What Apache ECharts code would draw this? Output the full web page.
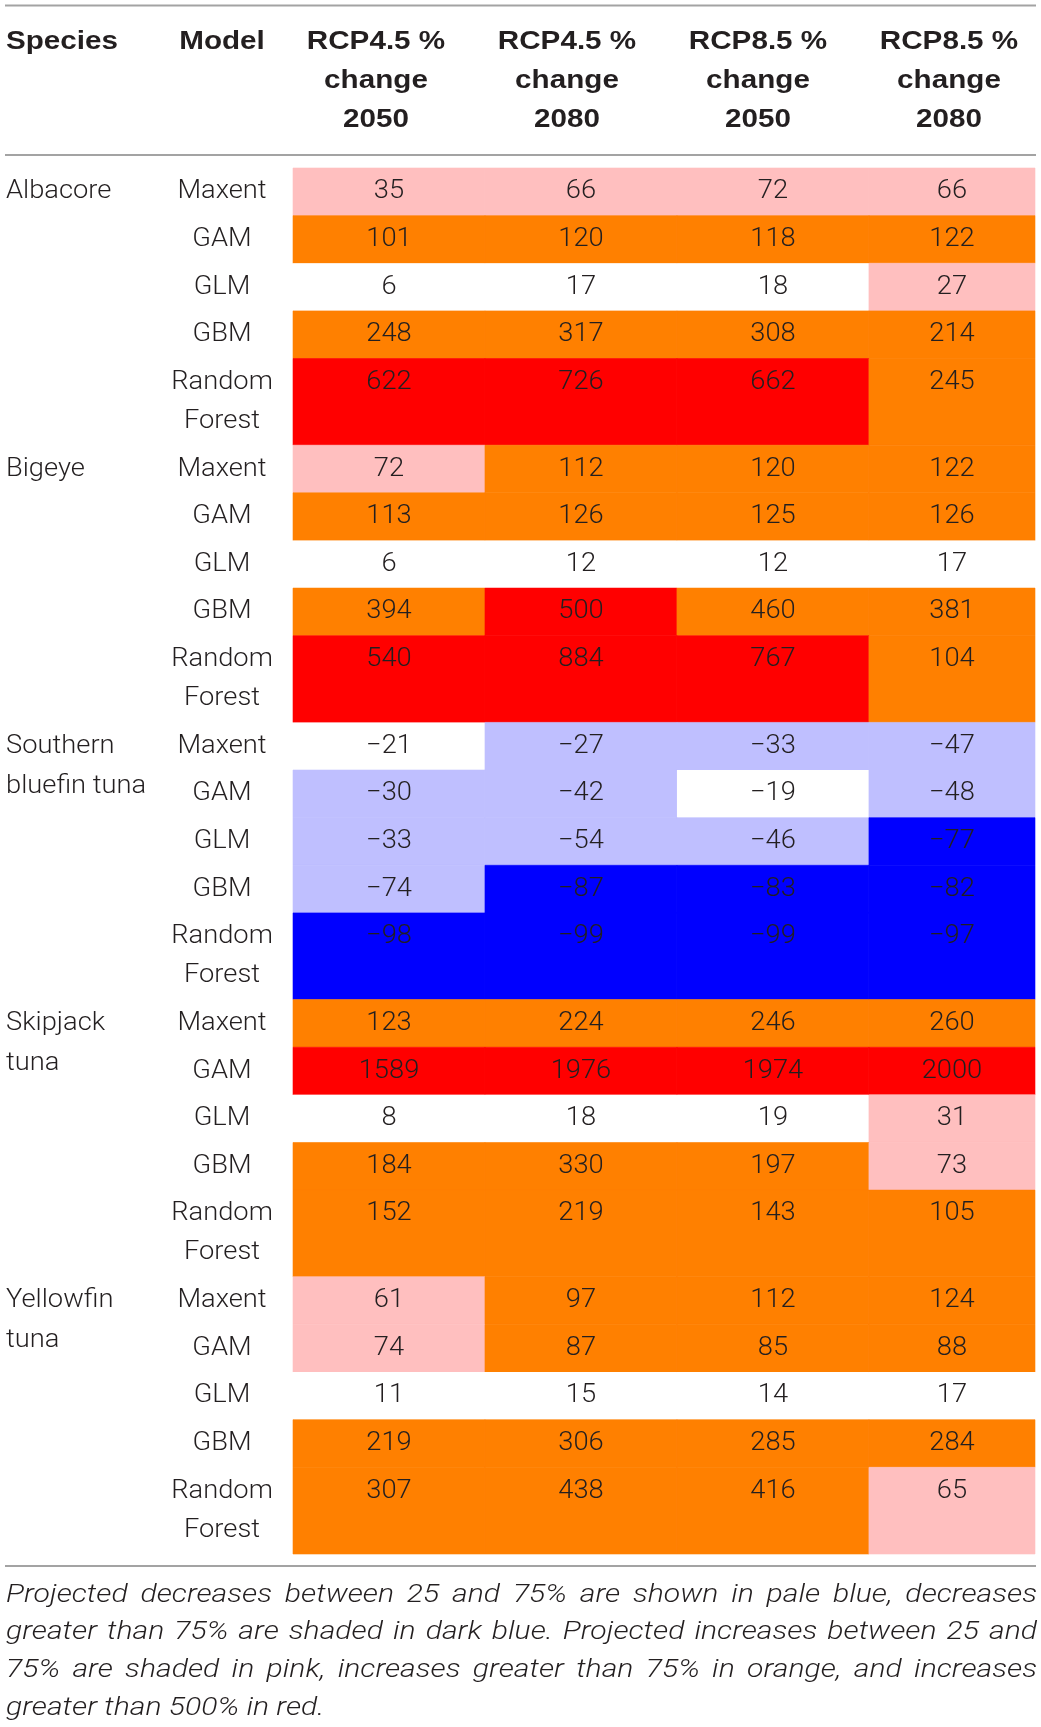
<!DOCTYPE html>
<html><head><meta charset="utf-8">
<script src="https://cdn.jsdelivr.net/npm/echarts@6/dist/echarts.min.js"></script>
<style>html,body{margin:0;padding:0;background:#fff}#c{width:1041px;height:1727px}</style>
</head><body><div id="c"></div>
<script>
// ---------------- data ----------------
const species = ['Albacore', 'Bigeye', 'Southern\nbluefin tuna', 'Skipjack\ntuna', 'Yellowfin\ntuna'];
const models = ['Maxent', 'GAM', 'GLM', 'GBM', 'Random\nForest'];
const scenarioHeaders = ['RCP4.5 %\nchange\n2050', 'RCP4.5 %\nchange\n2080', 'RCP8.5 %\nchange\n2050', 'RCP8.5 %\nchange\n2080'];
// values in order: species (Albacore, Bigeye, Southern bluefin, Skipjack, Yellowfin) x models (Maxent, GAM, GLM, GBM, RF)
const rcp45_2050 = [35, 101, 6, 248, 622,   72, 113, 6, 394, 540,   -21, -30, -33, -74, -98,   123, 1589, 8, 184, 152,   61, 74, 11, 219, 307];
const rcp45_2080 = [66, 120, 17, 317, 726,  112, 126, 12, 500, 884, -27, -42, -54, -87, -99,   224, 1976, 18, 330, 219,  97, 87, 15, 306, 438];
const rcp85_2050 = [72, 118, 18, 308, 662,  120, 125, 12, 460, 767, -33, -19, -46, -83, -99,   246, 1974, 19, 197, 143,  112, 85, 14, 285, 416];
const rcp85_2080 = [66, 122, 27, 214, 245,  122, 126, 17, 381, 104, -47, -48, -77, -82, -97,   260, 2000, 31, 73, 105,   124, 88, 17, 284, 65];
const headerSpecies = 'Species';
const headerModel = 'Model';
const captionLines = [
  'Projected decreases between 25 and 75% are shown in pale blue, decreases',
  'greater than 75% are shaded in dark blue. Projected increases between 25 and',
  '75% are shaded in pink, increases greater than 75% in orange, and increases',
  'greater than 500% in red.'
];

// ---------------- layout / style ----------------
const scenarios = [rcp45_2050, rcp45_2080, rcp85_2050, rcp85_2080];
const GL = 293, GR = 1035, GT = 168, GB = 1554, W = 1041, H = 1727;
const colUnits = [1, 1, 1, 0.865];
const rfUnits = 1.82;
const HEAD_X0 = 376, HEAD_DX = 191;
const TXT = '#231f20';
const LIGHT = { fontFamily: 'Roboto', fontWeight: 300, fontSize: 26 };
const LIGHT_SX = 1.05;
const BOLD = { fontFamily: 'Liberation Sans', fontWeight: 'bold', fontSize: 26 };
const BOLD_SX = 1.14;
const CAP = { fontFamily: 'Roboto', fontWeight: 300, fontStyle: 'italic', fontSize: 26 };
const CAP_SX = 1.16;

function shade(v) {
  if (v <= -75) return '#0000ff';
  if (v <= -25) return '#bfbfff';
  if (v >= 500) return '#ff0000';
  if (v > 75) return '#ff8000';
  if (v >= 25) return '#ffbfbf';
  return '#ffffff';
}
function fmt(v) { return v < 0 ? '\u2212' + Math.abs(v) : String(v); }
function txt(x, y, sx, style, font) {
  return { type: 'text', x: x, y: y, scaleX: sx, style: Object.assign({ x: 0, y: 0, fill: TXT }, font, style) };
}

const colStart = [0]; colUnits.forEach((u, i) => colStart.push(colStart[i] + u));
const xMax = colStart[colStart.length - 1];
const rowStarts = []; let yAcc = 0;
species.forEach((s, si) => models.forEach((m, mi) => {
  const h = mi === models.length - 1 ? rfUnits : 1;
  rowStarts.push([yAcc, yAcc + h, si, mi]); yAcc += h;
}));
const yMax = yAcc;

const cellData = [];
rowStarts.forEach((r, ri) => {
  scenarios.forEach((arr, ci) => {
    cellData.push([colStart[ci], colStart[ci + 1], r[0], r[1], arr[ri]]);
  });
});
const labelData = rowStarts.map(r => [0, r[0], r[2], r[3]]);

function renderCell(params, api) {
  const x0 = api.value(0), x1 = api.value(1), y0 = api.value(2), y1 = api.value(3), v = api.value(4);
  const p0 = api.coord([x0, y0]), p1 = api.coord([x1, y1]);
  const pt = api.coord([x0, y0 + 0.5]);
  const fill = shade(v);
  return { type: 'group', children: [
    { type: 'rect', shape: { x: p0[0], y: p0[1], width: p1[0] - p0[0], height: p1[1] - p0[1] },
      style: { fill: fill, stroke: fill === '#ffffff' ? null : fill, lineWidth: 0.6 } },
    txt((p0[0] + p1[0]) / 2, pt[1], LIGHT_SX, { text: fmt(v), align: 'center', verticalAlign: 'middle' }, LIGHT)
  ]};
}
function renderLabel(params, api) {
  const y0 = api.value(1), si = api.value(2), mi = api.value(3);
  const pt = api.coord([0, y0 + 0.5]);
  const children = [];
  children.push(txt(pt[0] - 71, pt[1] - 19.5, LIGHT_SX, { text: models[mi], align: 'center', verticalAlign: 'top', lineHeight: 39 }, LIGHT));
  if (mi === 0) {
    children.push(txt(6, pt[1] - 20, LIGHT_SX, { text: species[si], align: 'left', verticalAlign: 'top', lineHeight: 40 }, LIGHT));
  }
  return { type: 'group', children: children };
}

const graphics = [];
// rules
[5.5, 155, 1566].forEach(y => graphics.push({ type: 'line', shape: { x1: 5, y1: y, x2: 1036, y2: y },
  style: { stroke: '#a3a3a3', lineWidth: 2 } }));
// headers
graphics.push(txt(6, 42, BOLD_SX, { text: headerSpecies, align: 'left', verticalAlign: 'middle' }, BOLD));
graphics.push(txt(GL - 71, 42, BOLD_SX, { text: headerModel, align: 'center', verticalAlign: 'middle' }, BOLD));
scenarioHeaders.forEach((h, i) => {
  graphics.push(txt(HEAD_X0 + i * HEAD_DX, 22.5, BOLD_SX, { text: h, align: 'center', verticalAlign: 'top', lineHeight: 39 }, BOLD));
});
// caption (justified)
const ctx = document.createElement('canvas').getContext('2d');
ctx.font = 'italic 300 26px Roboto';
const capL = 6, capR = 1037, capY0 = 1595, capLH = 37.8;
captionLines.forEach((line, li) => {
  const y = capY0 + li * capLH;
  if (li === captionLines.length - 1) {
    graphics.push(txt(capL, y, CAP_SX, { text: line, align: 'left', verticalAlign: 'middle' }, CAP));
    return;
  }
  const words = line.split(' ');
  const widths = words.map(w => ctx.measureText(w).width * CAP_SX);
  const sum = widths.reduce((a, b) => a + b, 0);
  const gap = (capR - capL - sum) / (words.length - 1);
  let x = capL;
  words.forEach((w, wi) => {
    graphics.push(txt(x, y, CAP_SX, { text: w, align: 'left', verticalAlign: 'middle' }, CAP));
    x += widths[wi] + gap;
  });
});

const chart = echarts.init(document.getElementById('c'), null, { renderer: 'canvas' });
chart.setOption({
  animation: false,
  backgroundColor: '#ffffff',
  grid: { left: GL, right: W - GR, top: GT, bottom: H - GB },
  xAxis: { type: 'value', min: 0, max: xMax, show: false },
  yAxis: { type: 'value', min: 0, max: yMax, inverse: true, show: false },
  series: [
    { type: 'custom', renderItem: renderCell, data: cellData, encode: { x: [0, 1], y: [2, 3] }, clip: false },
    { type: 'custom', renderItem: renderLabel, data: labelData, encode: { x: 0, y: 1 }, clip: false }
  ],
  graphic: graphics
});
</script>
</body></html>
